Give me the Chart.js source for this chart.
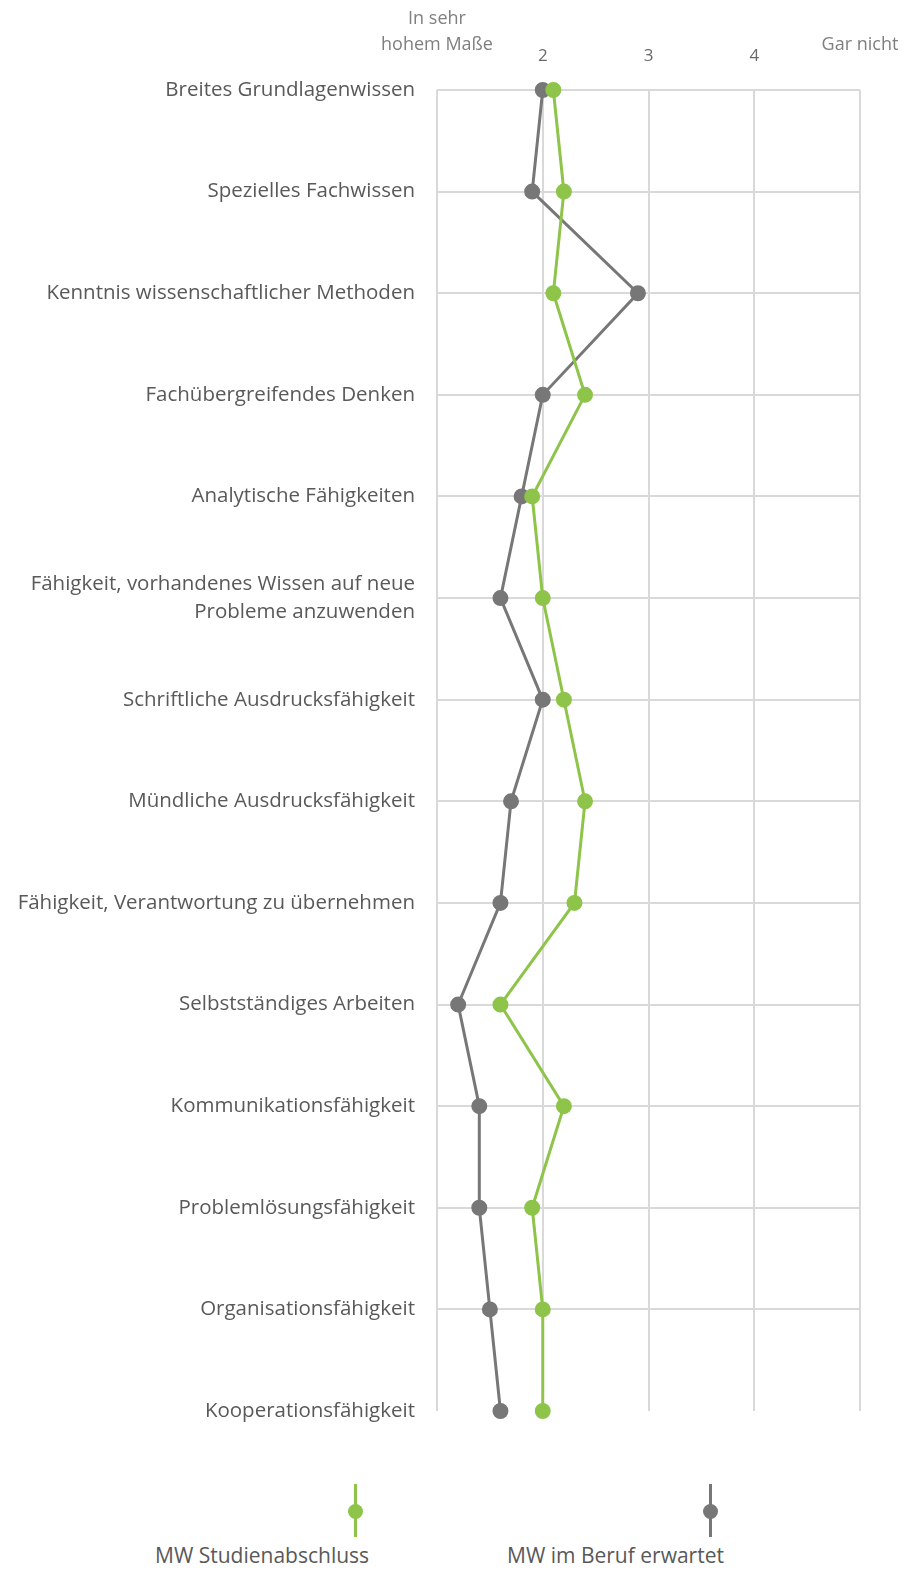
<!DOCTYPE html>
<html>
<head>
<meta charset="utf-8">
<script src="https://cdn.jsdelivr.net/npm/chart.js@4"></script>
<style>
  body { margin: 0; background: #fff; font-family: "Open Sans", sans-serif; }
  #wrap { position: relative; width: 904px; height: 1571px; }
  #box { position: absolute; left: 0; top: 0; width: 904px; height: 1440px; }
  .lg-sym { position: absolute; top: 1484px; width: 3px; height: 53px; }
  .lg-sym i { position: absolute; left: -6px; top: 20px; width: 15px; height: 15px; border-radius: 50%; }
  .lg-txt { position: absolute; top: 1541px; font-size: 21px; color: #595959; white-space: nowrap; }
</style>
</head>
<body>
<div id="wrap">
  <div id="box"><canvas id="chart"></canvas></div>
  <div id="legend"></div>
</div>
<script>
const categories = [
  'Breites Grundlagenwissen',
  'Spezielles Fachwissen',
  'Kenntnis wissenschaftlicher Methoden',
  'Fachübergreifendes Denken',
  'Analytische Fähigkeiten',
  ['Fähigkeit, vorhandenes Wissen auf neue', 'Probleme anzuwenden'],
  'Schriftliche Ausdrucksfähigkeit',
  'Mündliche Ausdrucksfähigkeit',
  'Fähigkeit, Verantwortung zu übernehmen',
  'Selbstständiges Arbeiten',
  'Kommunikationsfähigkeit',
  'Problemlösungsfähigkeit',
  'Organisationsfähigkeit',
  'Kooperationsfähigkeit'
];
const studium = [2.1, 2.2, 2.1, 2.4, 1.9, 2.0, 2.2, 2.4, 2.3, 1.6, 2.2, 1.9, 2.0, 2.0];
const beruf   = [2.0, 1.9, 2.9, 2.0, 1.8, 1.6, 2.0, 1.7, 1.6, 1.2, 1.4, 1.4, 1.5, 1.6];
const seriesNames = ['MW Studienabschluss', 'MW im Beruf erwartet'];
const xTickLabels = { 1: ['In sehr', 'hohem Maße'], 2: '2', 3: '3', 4: '4', 5: 'Gar nicht' };

const green = '#8dc449';
const grey = '#777777';

const isEnd = (c) => c.tick && (c.tick.value === 1 || c.tick.value === 5);

const ctx = document.getElementById('chart').getContext('2d');
const chart = new Chart(ctx, {
  type: 'line',
  data: {
    labels: categories,
    datasets: [
      {
        label: seriesNames[0],
        data: studium,
        borderColor: green,
        backgroundColor: green,
        borderWidth: 3,
        pointRadius: 6.5,
        pointHoverRadius: 6.5,
      },
      {
        label: seriesNames[1],
        data: beruf,
        borderColor: grey,
        backgroundColor: grey,
        borderWidth: 3,
        pointRadius: 6.5,
        pointHoverRadius: 6.5,
      },
    ],
  },
  options: {
    indexAxis: 'y',
    responsive: true,
    maintainAspectRatio: false,
    animation: false,
    layout: { padding: { left: 0, top: 0, right: 44, bottom: 29 } },
    plugins: {
      legend: { display: false },
      tooltip: { enabled: false },
    },
    scales: {
      x: {
        type: 'linear',
        position: 'top',
        min: 1,
        max: 5,
        afterFit: (scale) => {
          scale.height = 90;
          scale.paddingLeft = 0;
          scale.paddingRight = 0;
        },
        border: { display: false },
        grid: { color: '#d9d9d9', lineWidth: 2, drawTicks: false },
        ticks: {
          stepSize: 1,
          padding: 32,
          maxRotation: 0,
          autoSkip: false,
          color: (c) => (isEnd(c) ? '#7f7f7f' : '#6a6a6a'),
          font: (c) => (isEnd(c)
            ? { family: 'Open Sans', size: 18, lineHeight: '26px' }
            : { family: 'Open Sans', size: 17, lineHeight: '4px' }),
          callback: (v) => xTickLabels[v],
        },
      },
      y: {
        type: 'category',
        offset: false,
        afterFit: (scale) => {
          scale.width = 437;
          scale.paddingTop = 0;
          scale.paddingBottom = 0;
        },
        border: { display: false },
        grid: {
          color: (c) => (c.index === categories.length - 1 ? 'rgba(0,0,0,0)' : '#d9d9d9'),
          lineWidth: 2,
          drawTicks: false,
        },
        ticks: {
          padding: 22,
          color: '#595959',
          autoSkip: false,
          font: { family: 'Open Sans', size: 20.5, lineHeight: 1.4 },
        },
      },
    },
  },
});

// legend below the chart, built from the datasets
const legendPos = [{ sym: 354, txt: 155 }, { sym: 709, txt: 507 }];
const legend = document.getElementById('legend');
chart.data.datasets.forEach((ds, i) => {
  const sym = document.createElement('div');
  sym.className = 'lg-sym';
  sym.style.left = legendPos[i].sym + 'px';
  sym.style.background = ds.borderColor;
  const dot = document.createElement('i');
  dot.style.background = ds.borderColor;
  sym.appendChild(dot);
  const txt = document.createElement('div');
  txt.className = 'lg-txt';
  txt.style.left = legendPos[i].txt + 'px';
  txt.textContent = ds.label;
  legend.appendChild(sym);
  legend.appendChild(txt);
});
</script>
</body>
</html>
